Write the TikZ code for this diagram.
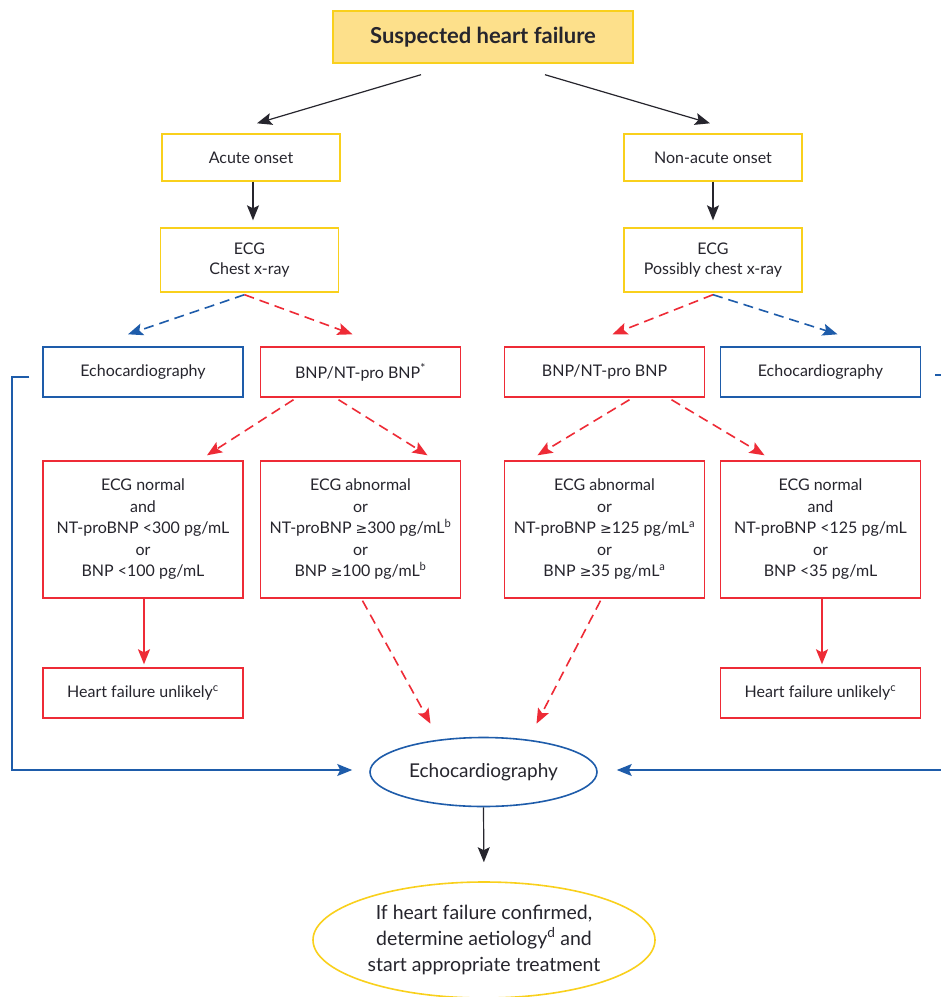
\documentclass[tikz,border=0pt]{standalone}
\usepackage{fontspec}
\setmainfont{Lato}
\newfontfamily\symfont{DejaVu Sans}
\usetikzlibrary{arrows.meta,shapes.geometric,calc}
\definecolor{hfyellow}{HTML}{F9D01C}
\definecolor{hffill}{HTML}{FDE08B}
\definecolor{hfblue}{HTML}{1E5CAA}
\definecolor{hfred}{HTML}{EE2B36}
\definecolor{hftext}{HTML}{26252D}
\newcommand{\geqs}{{\symfont\fontsize{14}{14}\selectfont ≥}}
\begin{document}
\begin{tikzpicture}[x=1pt,y=-1pt,
  every node/.style={text=hftext, font=\fontsize{16}{21.5}\selectfont, inner sep=0pt, align=center},
  basebox/.style={rectangle, line width=1.4pt, minimum width=200pt, minimum height=50pt},
  ybox/.style={basebox, draw=hfyellow, minimum width=178pt, minimum height=47pt},
  rbox/.style={basebox, draw=hfred},
  bbox/.style={basebox, draw=hfblue},
  arr/.style={draw=hftext, line width=1.2pt, -{Stealth[length=15pt,width=12pt,inset=3pt]}},
  rarr/.style={draw=hfred, line width=1.6pt, -{Stealth[length=15pt,width=12pt,inset=3pt]}},
  rdash/.style={rarr, dash pattern=on 10pt off 6pt},
  bdash/.style={draw=hfblue, line width=1.6pt, dash pattern=on 10pt off 6pt, -{Stealth[length=15pt,width=12pt,inset=3pt]}},
  barr/.style={draw=hfblue, line width=1.3pt, -{Stealth[length=15pt,width=12pt,inset=3pt]}},
]
\clip (0,0) rectangle (941,997);
\fill[white] (0,0) rectangle (941,997);

\node[basebox, draw=hfyellow, fill=hffill, minimum width=300pt, minimum height=52pt,
      font=\fontsize{22}{26}\selectfont\bfseries] (top) at (483,37) {Suspected heart failure};

\node[ybox] (acute) at (251,157.5) {Acute onset};
\node[ybox] (nonacute) at (713,157.5) {Non-acute onset};

\node[ybox, minimum height=64pt, font=\fontsize{16}{19.5}\selectfont] (ecg1) at (249.5,260) {ECG\\Chest x-ray};
\node[ybox, minimum height=64pt, font=\fontsize{16}{19.5}\selectfont] (ecg2) at (713,260) {ECG\\Possibly chest x-ray};

\node[bbox] (echoL) at (143,372) {Echocardiography};
\node[rbox] (bnpL) at (360.5,372) {BNP/NT-pro BNP\textsuperscript{\large *}};
\node[rbox] (bnpR) at (604.5,372) {BNP/NT-pro BNP};
\node[bbox] (echoR) at (820.5,372) {Echocardiography};

\node[rbox, minimum height=137pt] (c1) at (143,529.5)
  {ECG normal\\and\\NT-proBNP <300 pg/mL\\or\\BNP <100 pg/mL};
\node[rbox, minimum height=137pt] (c2) at (360.5,529.5)
  {ECG abnormal\\or\\NT-proBNP \geqs300 pg/mL\textsuperscript{b}\\or\\BNP \geqs100 pg/mL\textsuperscript{b}};
\node[rbox, minimum height=137pt] (c3) at (604.5,529.5)
  {ECG abnormal\\or\\NT-proBNP \geqs125 pg/mL\textsuperscript{a}\\or\\BNP \geqs35 pg/mL\textsuperscript{a}};
\node[rbox, minimum height=137pt] (c4) at (820.5,529.5)
  {ECG normal\\and\\NT-proBNP <125 pg/mL\\or\\BNP <35 pg/mL};

\node[rbox] (hfuL) at (143,693) {Heart failure unlikely\textsuperscript{c}};
\node[rbox] (hfuR) at (820.5,693) {Heart failure unlikely\textsuperscript{c}};

\node[ellipse, draw=hfblue, line width=1.6pt, minimum width=227pt, minimum height=69pt,
      font=\fontsize{19}{23}\selectfont] (echoE) at (483.5,772) {Echocardiography};

\node[ellipse, draw=hfyellow, line width=1.6pt, minimum width=342pt, minimum height=116pt,
      font=\fontsize{19.5}{26}\selectfont] (final) at (484,940)
  {If heart failure confirmed,\\determine aetiology\textsuperscript{d} and\\start appropriate treatment};

% connectors
\draw[arr] ($(top.south)+(-62,11)$) -- ($(acute.north)+(6,-10)$);
\draw[arr] ($(top.south)+(62,11)$) -- ($(nonacute.north)+(-3,-10)$);
\draw[arr, shorten >=7pt] ($(acute.south)+(2,0)$) -- ($(ecg1.north)+(3.5,0)$);
\draw[arr, shorten >=7pt] (nonacute.south) -- (ecg2.north);

\draw[bdash] ($(ecg1.south)+(-5,2)$) -- ($(echoL.north)+(-15,-12)$);
\draw[rdash] ($(ecg1.south)+(-5,2)$) -- ($(bnpL.north)+(-8,-12)$);
\draw[rdash] ($(ecg2.south)+(0,2)$) -- ($(bnpR.north)+(8,-12)$);
\draw[bdash] ($(ecg2.south)+(0,2)$) -- ($(echoR.north)+(17,-12)$);

\draw[rdash] ($(bnpL.south)+(-67,2)$) -- ($(c1.north)+(64,-5)$);
\draw[rdash] ($(bnpL.south)+(-22,2)$) -- ($(c2.north)+(67,-5)$);
\draw[rdash] ($(bnpR.south)+(25,2)$) -- ($(c3.north)+(-67,-5)$);
\draw[rdash] ($(bnpR.south)+(67,2)$) -- ($(c4.north)+(-56,-5)$);

\draw[rarr, shorten >=3pt] ($(c1.south)+(1,0)$) -- ($(hfuL.north)+(1,0)$);
\draw[rarr, shorten >=3pt] ($(c4.south)+(1.5,0)$) -- ($(hfuR.north)+(1.5,0)$);

\draw[rdash] ($(c2.south)+(2,2)$) -- ($(echoE.north)+(-53,-13)$);
\draw[rdash] ($(c3.south)+(-4,2)$) -- ($(echoE.north)+(53,-13)$);

\coordinate (lc) at (12,377);
\coordinate (rc) at (948,375);
\draw[barr] ($(echoL.west)+(-13,5)$) -- (lc) |- ($(echoE.west)+(-17,-2)$);
\draw[barr] ($(echoR.east)+(14,3)$) -- (rc) |- ($(echoE.east)+(19,-2)$);

\draw[arr, shorten >=19pt] (echoE.south) -- (final.north);
\end{tikzpicture}
\end{document}
